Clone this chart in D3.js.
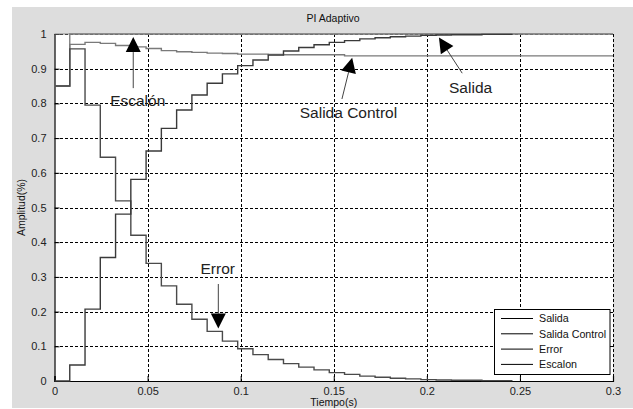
<!DOCTYPE html>
<html>
<head>
<meta charset="utf-8">
<script src="https://cdn.jsdelivr.net/npm/d3@7"></script>
<style>
  html, body { margin: 0; padding: 0; background: #ffffff; }
  svg { display: block; }
  text { font-family: "Liberation Sans", Arial, sans-serif; }
</style>
</head>
<body>
<svg id="chart" width="633" height="409"></svg>
<script>
// ---- Data ----
const title = "PI Adaptivo";
const xLabel = "Tiempo(s)";
const yLabel = "Amplitud(%)";
const sampleTime = 0.0082;          // sampling period of the stair signals
const xTicks = [0, 0.05, 0.1, 0.15, 0.2, 0.25, 0.3];
const yTicks = [0, 0.1, 0.2, 0.3, 0.4, 0.5, 0.6, 0.7, 0.8, 0.9, 1];
const seriesNames = ["Salida", "Salida Control", "Error", "Escalon"];

const salida = [0, 0.046, 0.207, 0.356, 0.481, 0.581, 0.663, 0.728, 0.781, 0.824,
  0.858, 0.885, 0.909, 0.925, 0.939, 0.951, 0.961, 0.969, 0.976, 0.981,
  0.986, 0.989, 0.992, 0.994, 0.996, 0.997, 0.998, 0.998, 0.999, 0.999, 0.999];
const error = [0.85, 0.957, 0.795, 0.645, 0.519, 0.42, 0.339, 0.274, 0.221, 0.178,
  0.143, 0.115, 0.093, 0.076, 0.062, 0.050, 0.040, 0.032, 0.024, 0.019,
  0.014, 0.011, 0.008, 0.006, 0.004, 0.003, 0.002, 0.002, 0.001, 0.001, 0.001];
const salidaControl = [0.85, 0.970, 0.976, 0.973, 0.967, 0.963, 0.958, 0.952, 0.949, 0.947,
  0.945, 0.944, 0.942, 0.942, 0.941, 0.940, 0.940, 0.940, 0.940, 0.937,
  0.937, 0.937, 0.937, 0.937, 0.937, 0.937, 0.937, 0.937, 0.937, 0.937,
  0.937, 0.937, 0.937, 0.937, 0.937, 0.937, 0.937];
const escalon = [0.85, 1, 1, 1, 1, 1, 1, 1, 1, 1, 1, 1, 1, 1, 1, 1, 1, 1, 1, 1,
  1, 1, 1, 1, 1, 1, 1, 1, 1, 1, 1, 1, 1, 1, 1, 1, 1];

// annotations: [label, textX, textBaselineY, arrowTailX, arrowTailY, tipX, tipY] in data units
const annotations = [
  { label: "Escalón", tx: 0.0447, ty: 0.7925, ax: 0.0423, ay: 0.844, bx: 0.0423, by: 0.991 },
  { label: "Error", tx: 0.0877, ty: 0.308, ax: 0.0880, ay: 0.2795, bx: 0.0880, by: 0.151 },
  { label: "Salida Control", tx: 0.1579, ty: 0.758, ax: 0.1544, ay: 0.8127, bx: 0.1599, by: 0.9317 },
  { label: "Salida", tx: 0.2235, ty: 0.830, ax: 0.2190, ay: 0.887, bx: 0.2065, by: 0.990 }
];

// ---- Layout ----
const W = 633, H = 409;
const plot = { left: 54.5, right: 613, top: 34, bottom: 381 };
const svg = d3.select("#chart");

svg.append("rect").attr("x", 12).attr("y", 7).attr("width", W - 12).attr("height", 401)
  .attr("fill", "#dddddd");
svg.append("rect").attr("x", plot.left).attr("y", plot.top)
  .attr("width", plot.right - plot.left).attr("height", plot.bottom - plot.top)
  .attr("fill", "#ffffff");

const x = d3.scaleLinear().domain([0, 0.3]).range([plot.left, plot.right]);
const y = d3.scaleLinear().domain([0, 1]).range([plot.bottom, plot.top]);

// grid
const grid = svg.append("g").attr("stroke", "#000").attr("stroke-width", 1)
  .attr("stroke-dasharray", "3,2").attr("shape-rendering", "crispEdges");
grid.selectAll("line.gx").data(xTicks.filter(d => d > 0)).join("line")
  .attr("x1", d => Math.round(x(d)) + 0.5).attr("x2", d => Math.round(x(d)) + 0.5)
  .attr("y1", plot.top).attr("y2", plot.bottom);
grid.selectAll("line.gy").data(yTicks.filter(d => d > 0)).join("line")
  .attr("class", "gy")
  .attr("y1", d => Math.round(y(d)) + 0.5).attr("y2", d => Math.round(y(d)) + 0.5)
  .attr("x1", plot.left).attr("x2", plot.right);

// axes
const xAxis = d3.axisBottom(x).tickValues(xTicks).tickSize(-5).tickPadding(8)
  .tickFormat(d => d3.format("")(+d.toFixed(2)));
const yAxis = d3.axisLeft(y).tickValues(yTicks).tickSize(-5).tickPadding(8)
  .tickFormat(d => d3.format("")(+d.toFixed(1)));

const gx = svg.append("g").attr("transform", `translate(0,${plot.bottom})`).call(xAxis);
const gy = svg.append("g").attr("transform", `translate(${plot.left},0)`).call(yAxis);
[gx, gy].forEach(g => {
  g.select(".domain").attr("stroke", "#000").attr("stroke-width", 1.2);
  g.selectAll(".tick line").attr("stroke", "#000");
  g.selectAll(".tick text").attr("font-size", 11).attr("fill", "#222")
    .attr("font-family", "'Liberation Sans', Arial, sans-serif");
});
gx.selectAll(".tick text").attr("dy", "0.55em");
// top frame line
svg.append("line").attr("x1", plot.left).attr("x2", plot.right)
  .attr("y1", plot.top).attr("y2", plot.top).attr("stroke", "#888").attr("stroke-width", 1.2);

// series
function toPoints(values, extendTo) {
  const pts = values.map((v, i) => [i * sampleTime, v]);
  if (extendTo !== undefined) pts.push([extendTo, values[values.length - 1]]);
  return pts;
}
const line = d3.line().x(d => x(d[0])).y(d => y(d[1])).curve(d3.curveStepAfter);
const series = [
  { name: "Escalon", pts: toPoints(escalon, 0.3), color: "#808080" },
  { name: "Salida Control", pts: toPoints(salidaControl, 0.3), color: "#7a7a7a" },
  { name: "Error", pts: toPoints(error), color: "#4a4a4a" },
  { name: "Salida", pts: toPoints(salida), color: "#3a3a3a" }
];
svg.append("g").selectAll("path").data(series).join("path")
  .attr("d", d => line(d.pts)).attr("fill", "none")
  .attr("stroke", d => d.color).attr("stroke-width", 1.4);

// annotations
const ann = svg.append("g");
annotations.forEach(a => {
  const x0 = x(a.ax), y0 = y(a.ay), x1 = x(a.bx), y1 = y(a.by);
  const dx = x1 - x0, dy = y1 - y0, L = Math.hypot(dx, dy);
  const ux = dx / L, uy = dy / L;
  const headLen = 15, headW = 7.5;
  const bx = x1 - ux * headLen, by = y1 - uy * headLen;
  ann.append("line").attr("x1", x0).attr("y1", y0).attr("x2", bx).attr("y2", by)
    .attr("stroke", "#444").attr("stroke-width", 1);
  ann.append("path")
    .attr("d", `M${x1},${y1}L${bx - uy * headW},${by + ux * headW}L${bx + uy * headW},${by - ux * headW}Z`)
    .attr("fill", "#000");
  ann.append("text").attr("x", x(a.tx)).attr("y", y(a.ty)).attr("text-anchor", "middle")
    .attr("font-size", 15.5).attr("fill", "#222").text(a.label);
});

// legend
const lg = svg.append("g");
lg.append("rect").attr("x", 494.5).attr("y", 309.5).attr("width", 115.5).attr("height", 65)
  .attr("fill", "#fff").attr("stroke", "#000").attr("stroke-width", 1);
seriesNames.forEach((n, i) => {
  const yy = 318.5 + i * 15.3;
  lg.append("line").attr("x1", 501).attr("x2", 533).attr("y1", yy).attr("y2", yy)
    .attr("stroke", "#000").attr("stroke-width", 1);
  lg.append("text").attr("x", 539).attr("y", yy).attr("dy", "0.35em")
    .attr("font-size", 10.7).attr("fill", "#111").text(n);
});

// titles
svg.append("text").attr("x", 333).attr("y", 22).attr("text-anchor", "middle")
  .attr("font-size", 10.5).attr("fill", "#111").text(title);
svg.append("text").attr("x", (plot.left + plot.right) / 2).attr("y", 406).attr("text-anchor", "middle")
  .attr("font-size", 10.5).attr("fill", "#111").text(xLabel);
svg.append("text").attr("transform", `translate(25,${(plot.top + plot.bottom) / 2}) rotate(-90)`)
  .attr("text-anchor", "middle").attr("font-size", 10.5).attr("fill", "#111").text(yLabel);
</script>
</body>
</html>
